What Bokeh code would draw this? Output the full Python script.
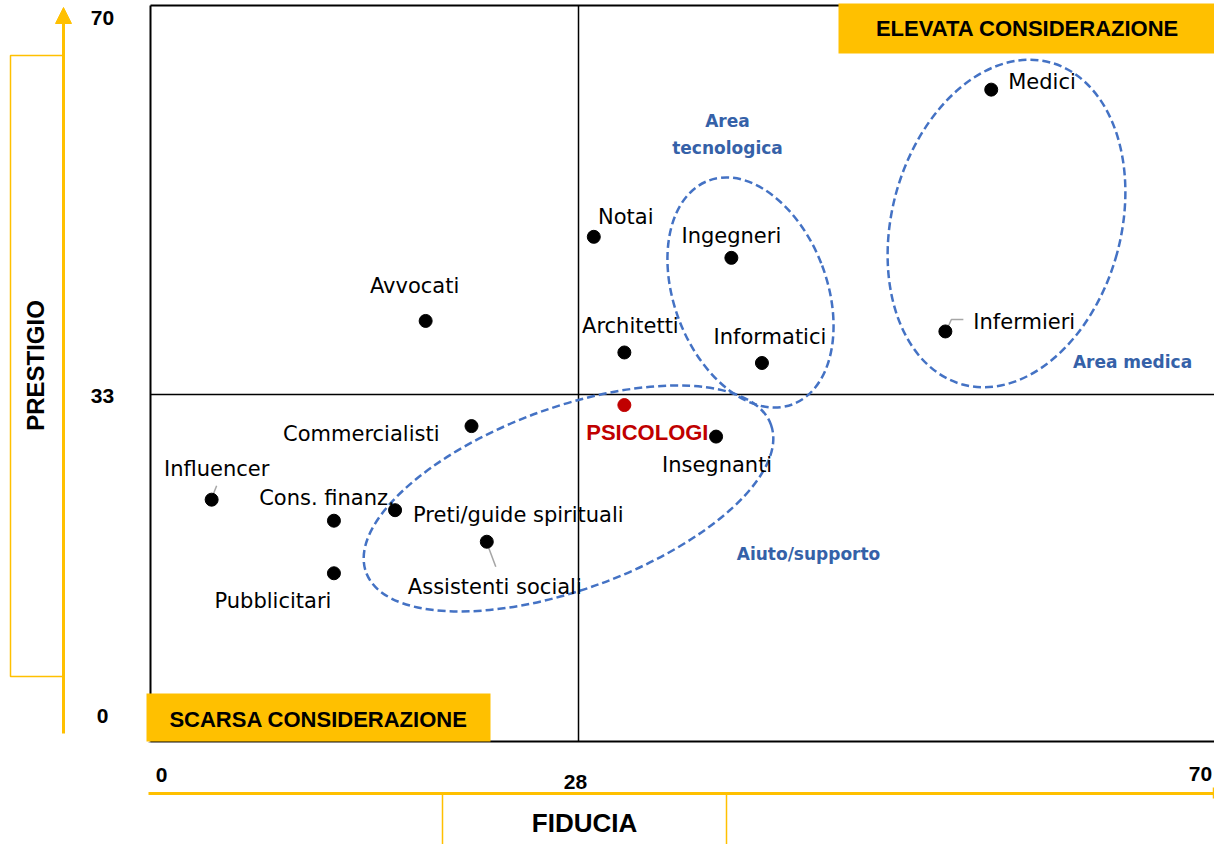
from bokeh.plotting import figure
from bokeh.models import Range1d, ColumnDataSource, Arrow, NormalHead
from bokeh.core.properties import value
from bokeh.embed import file_html
from bokeh.resources import INLINE

# ---------------- data ----------------
professions = ["Medici", "Ingegneri", "Notai", "Avvocati", "Architetti", "Informatici",
               "Infermieri", "PSICOLOGI", "Commercialisti", "Insegnanti", "Influencer",
               "Cons. finanz.", "Preti/guide spirituali", "Assistenti sociali", "Pubblicitari"]
fiducia = [55, 38, 29, 18, 31, 40, 52, 31, 21, 37, 4, 12, 16, 22, 12]
prestigio = [62, 46, 48, 40, 37, 36, 39, 32, 30, 29, 23, 21, 22, 19, 16]
highlight = "PSICOLOGI"

x_ticks = [0, 28, 70]
y_ticks = [0, 33, 70]
x_tick_labels = ["0", "28", "70"]
y_tick_labels = ["0", "33", "70"]
x_title = "FIDUCIA"
y_title = "PRESTIGIO"
high_label = "ELEVATA CONSIDERAZIONE"
low_label = "SCARSA CONSIDERAZIONE"
areas = ["Area medica", "Area\ntecnologica", "Aiuto/supporto"]

# ---------------- layout (style) ----------------
W, H = 1214, 844
SX = 15.286          # px per fiducia unit
SY = 10.514          # px per prestigio unit
X0PX, Y0PX = 150, 741  # page pixel of the (0,0) corner


def X(px):
    return (px - X0PX) / SX


def Y(py):
    return (Y0PX - py) / SY


YELLOW = "#FFC000"
BLUE_LINE = "#4472C4"
BLUE_TEXT = "#3561A8"
RED = "#C00000"
REG = "DejaVu Sans"
BOLD = "Liberation Sans"

p = figure(width=W, height=H, output_backend="svg", toolbar_location=None,
           x_range=Range1d(X(0), X(W)), y_range=Range1d(Y(H), Y(0)),
           x_axis_location=None, y_axis_location=None, min_border=0,
           outline_line_color=None, background_fill_color="white",
           border_fill_color="white")
p.grid.visible = False

# frame + quadrant lines
xmin, xmax = x_ticks[0], x_ticks[-1]
ymin, ymax = y_ticks[0], y_ticks[-1]
p.segment(x0=[xmin, xmin, xmin], y0=[ymin, ymax, ymin], x1=[xmin, xmax, xmax],
          y1=[ymax, ymax, ymin], line_color="black", line_width=2)
p.segment(x0=[x_ticks[1], xmin], y0=[ymin, y_ticks[1]], x1=[x_ticks[1], xmax],
          y1=[ymax, y_ticks[1]], line_color="black", line_width=1.5)

# corner boxes
p.quad(left=[X(838)], right=[X(1230)], top=[Y(3)], bottom=[Y(53)],
       fill_color=YELLOW, line_color=None)
p.quad(left=[X(146)], right=[X(490)], top=[Y(693)], bottom=[Y(741)],
       fill_color=YELLOW, line_color=None)
p.segment(x0=[X(148)], y0=[Y(742)], x1=[X(490)], y1=[Y(742)],
          line_color="#8a8a8a", line_width=1, line_alpha=0.6)
p.text(x=[X(1027)], y=[Y(28)], text=[high_label], text_font=value(BOLD),
       text_font_style="bold", text_font_size=value("22px"), text_align="center",
       text_baseline="middle", text_color="black")
p.text(x=[X(318)], y=[Y(719)], text=[low_label], text_font=value(BOLD),
       text_font_style="bold", text_font_size=value("22px"), text_align="center",
       text_baseline="middle", text_color="black")

# yellow axes outside the frame
p.add_layout(Arrow(x_start=X(63), y_start=Y(733), x_end=X(63), y_end=Y(7),
                   line_color=YELLOW, line_width=3,
                   end=NormalHead(size=16, fill_color=YELLOW, line_color=YELLOW)))
p.quad(left=[X(10)], right=[X(63)], top=[Y(55)], bottom=[Y(676)],
       fill_color=None, line_color=YELLOW, line_width=1.5)
p.segment(x0=[X(148)], y0=[Y(793)], x1=[X(1214)], y1=[Y(793)],
          line_color=YELLOW, line_width=3)
p.segment(x0=[X(1213)], y0=[Y(787)], x1=[X(1213)], y1=[Y(798)],
          line_color=YELLOW, line_width=1.5)
p.quad(left=[X(442)], right=[X(726)], top=[Y(793)], bottom=[Y(870)],
       fill_color=None, line_color=YELLOW, line_width=1.5)

p.text(x=[X(35)], y=[Y(365)], text=[y_title], angle=1.5708, text_font=value(BOLD),
       text_font_style="bold", text_font_size=value("24px"), text_align="center",
       text_baseline="middle", text_color="black")
p.text(x=[X(584)], y=[Y(822)], text=[x_title], text_font=value(BOLD),
       text_font_style="bold", text_font_size=value("26px"), text_align="center",
       text_baseline="middle", text_color="black")

# tick labels
y_tick_dy = [-26, 1, 12]
p.text(x=[X(102)] * 3, y=y_ticks, text=y_tick_labels, y_offset=y_tick_dy,
       text_font=value(BOLD), text_font_style="bold", text_font_size=value("21px"),
       text_align="center", text_baseline="middle", text_color="black")
x_tick_dx = [11, -3, -20]
x_tick_y = [Y(774), Y(781), Y(773)]
p.text(x=x_ticks, y=x_tick_y, text=x_tick_labels, x_offset=x_tick_dx,
       text_font=value(BOLD), text_font_style="bold", text_font_size=value("21px"),
       text_align="center", text_baseline="middle", text_color="black")

# group ellipses
ell_x = [X(1006), X(750), X(568)]
ell_y = [Y(223), Y(292), Y(498)]
p.ellipse(x=ell_x, y=ell_y, width=[229, 153, 431], height=[334, 239, 182],
          angle=[-0.267, 0.36, 0.35], width_units="screen", height_units="screen",
          fill_color=None, line_color=BLUE_LINE, line_width=2.5, line_dash="8 4")
p.text(x=[X(1132), X(727), X(808)], y=[Y(361), Y(134), Y(553)], text=areas,
       text_font=value(REG), text_font_style="bold", text_font_size=value("17px"),
       text_align="center", text_baseline="middle", text_color=BLUE_TEXT,
       text_line_height=1.35)

# leader lines (point -> label), offsets in px
lead = {"Infermieri": [(2, 3), (6, 12), (18, 12)],
        "Influencer": [(1, 4), (5, 14)],
        "Assistenti sociali": [(0, -1), (9, -25)]}
for name, pts in lead.items():
    i = professions.index(name)
    xs = [fiducia[i] + dx / SX for dx, dy in pts]
    ys = [prestigio[i] + dy / SY for dx, dy in pts]
    p.line(xs, ys, line_color="#A6A6A6", line_width=1.5)

# points
colors = [RED if n == highlight else "black" for n in professions]
src = ColumnDataSource(dict(x=fiducia, y=prestigio, name=professions, color=colors))
p.scatter("x", "y", source=src, size=13, fill_color="color", line_color="color")

# labels
label_dx = [17, 0, 32, -11, 6, 8, 28, 23, -32, 1, 5, -7, 18, 8, -61]
label_dy = [-8, -22, -20, -35, -26, -26, -9, 27, 8, 28, -31, -23, 5, 45, 28]
label_align = ["left", "center", "center", "center", "center", "center", "left",
               "center", "right", "center", "center", "center", "left", "center",
               "center"]
reg_idx = [i for i, n in enumerate(professions) if n != highlight]
hi = professions.index(highlight)
lab = ColumnDataSource(dict(x=[fiducia[i] for i in reg_idx],
                            y=[prestigio[i] for i in reg_idx],
                            t=[professions[i] for i in reg_idx],
                            dx=[label_dx[i] for i in reg_idx],
                            dy=[label_dy[i] for i in reg_idx],
                            al=[label_align[i] for i in reg_idx]))
p.text(x="x", y="y", text="t", x_offset="dx", y_offset="dy", text_align="al",
       source=lab, text_font=value(REG), text_font_size=value("21px"),
       text_baseline="middle", text_color="black")
p.text(x=[fiducia[hi]], y=[prestigio[hi]], text=[professions[hi]],
       x_offset=[label_dx[hi]], y_offset=[label_dy[hi]], text_align="center",
       text_font=value(BOLD), text_font_style="bold", text_font_size=value("22px"),
       text_baseline="middle", text_color=RED)

open("out.html", "w").write(file_html(p, INLINE))
